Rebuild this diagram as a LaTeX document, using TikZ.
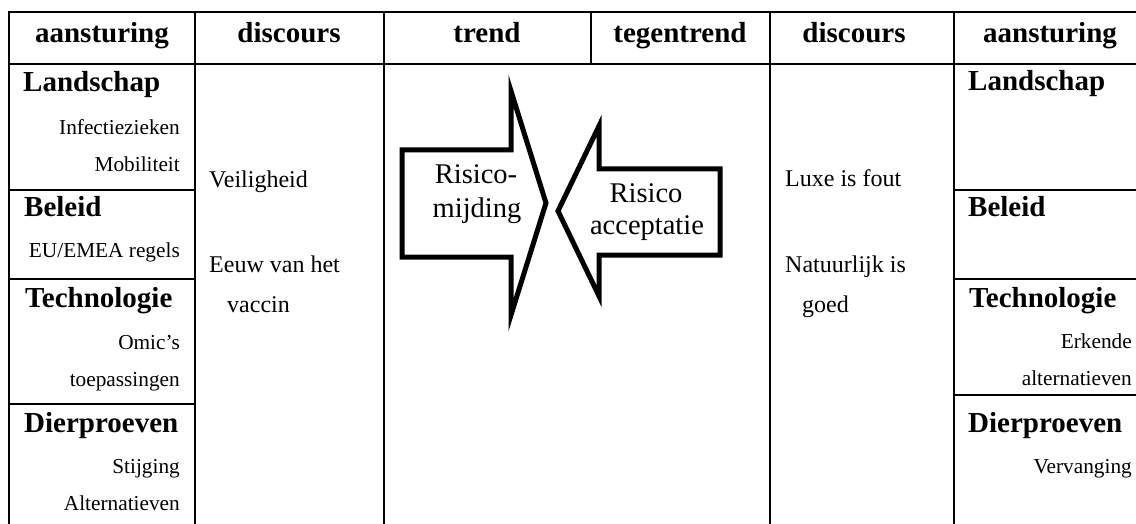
\documentclass[tikz,border=0pt]{standalone}
\usepackage{fontspec}
\setmainfont{Liberation Serif}
\begin{document}
\begin{tikzpicture}[x=1pt,y=-1pt,
  grid/.style={line width=2.2pt},
  hd/.style={font=\fontsize{29}{29}\selectfont\bfseries, anchor=base, inner sep=0pt},
  cat/.style={font=\fontsize{29}{29}\selectfont\bfseries, anchor=base west, inner sep=0pt},
  sub/.style={font=\fontsize{21.3}{21.3}\selectfont, anchor=base east, inner sep=0pt},
  disc/.style={font=\fontsize{24}{24}\selectfont, anchor=base west, inner sep=0pt},
  bigarrow/.style={line width=5pt, line join=miter, miter limit=30},
  arrtxt/.style={font=\fontsize{28.5}{28.5}\selectfont, anchor=base, inner sep=0pt}]
\useasboundingbox (0,0) rectangle (1136,524);

% table rules
\draw[grid] (8,12) -- (1145,12);
\draw[grid] (8,64) -- (1145,64);
\foreach \x in {9,195,384,770,954} \draw[grid] (\x,11) -- (\x,530);
\draw[grid] (591,11) -- (591,64);
\foreach \y in {190,279,404} \draw[grid] (9,\y) -- (195,\y);
\foreach \y in {190,279,395} \draw[grid] (954,\y) -- (1145,\y);

% header row
\node[hd] (h1) at (102,43) {aansturing};
\node[hd] (h2) at (289,43) {discours};
\node[hd] (h3) at (487,43) {trend};
\node[hd] (h4) at (680,43) {tegentrend};
\node[hd] (h5) at (854,43) {discours};
\node[hd] (h6) at (1050,43) {aansturing};

% left steering column
\node[cat] (l1) at (23,92) {Landschap};
\node[sub] (l1a) at (180,135) {Infectiezieken};
\node[sub] (l1b) at (180,172) {Mobiliteit};
\node[cat] (l2) at (24,217) {Beleid};
\node[sub] (l2a) at (180,257) {EU/EMEA regels};
\node[cat] (l3) at (25,307) {Technologie};
\node[sub] (l3a) at (180,349) {Omic’s};
\node[sub] (l3b) at (180,386) {toepassingen};
\node[cat] (l4) at (24,432) {Dierproeven};
\node[sub] (l4a) at (180,473) {Stijging};
\node[sub] (l4b) at (180,510) {Alternatieven};

% left discourse column
\node[disc] (d1) at (209,188) {Veiligheid};
\node[disc] (d2) at (209,272) {Eeuw van het};
\node[disc] (d3) at (227,312) {vaccin};

% right discourse column
\node[disc] (e1) at (785,187) {Luxe is fout};
\node[disc] (e2) at (785,272) {Natuurlijk is};
\node[disc] (e3) at (802,312) {goed};

% right steering column
\node[cat] (r1) at (968,91) {Landschap};
\node[cat] (r2) at (968,217) {Beleid};
\node[cat] (r3) at (969,307) {Technologie};
\node[sub] (r3a) at (1132,348) {Erkende};
\node[sub] (r3b) at (1132,385) {alternatieven};
\node[cat] (r4) at (968,432) {Dierproeven};
\node[sub] (r4a) at (1132,473) {Vervanging};

% opposing block arrows
\draw[bigarrow] (402,150) -- (511,150) -- (511,91) -- (546,203) -- (511,315)
  -- (511,257) -- (402,257) -- cycle;
\draw[bigarrow] (720,169) -- (599,169) -- (599,126) -- (558,211) -- (599,296)
  -- (599,255) -- (720,255) -- cycle;
\node[arrtxt] (a1) at (476,184) {Risico-};
\node[arrtxt] (a2) at (477,218) {mijding};
\node[arrtxt] (b1) at (646,203) {Risico};
\node[arrtxt] (b2) at (647,234) {acceptatie};
\end{tikzpicture}
\end{document}
